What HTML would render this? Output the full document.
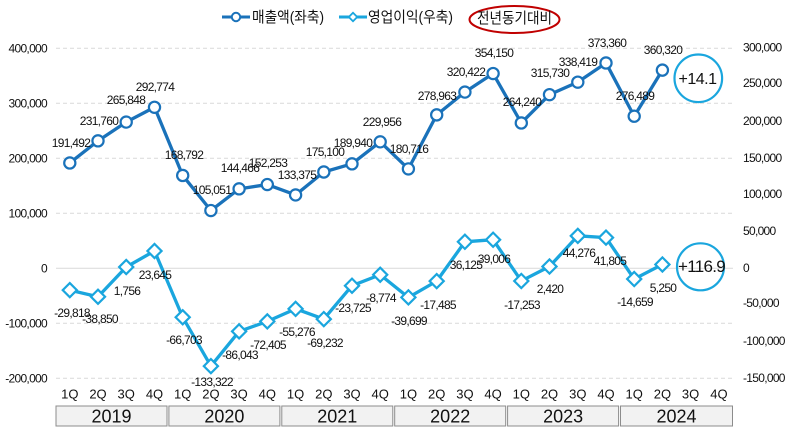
<!DOCTYPE html>
<html><head><meta charset="utf-8"><style>
html,body{margin:0;padding:0;background:#fff;}
svg{display:block;}
text{font-family:"Liberation Sans","Noto Sans CJK KR",sans-serif;fill:#111;}
.ax{font-size:12px;letter-spacing:-0.7px;}
.dl{font-size:12px;letter-spacing:-0.7px;text-anchor:middle;dominant-baseline:central;}
.q{font-size:13px;text-anchor:middle;dominant-baseline:central;}
.yr{font-size:18px;text-anchor:middle;dominant-baseline:central;}
</style></head><body>
<svg width="787" height="439" viewBox="0 0 787 439" xmlns="http://www.w3.org/2000/svg">
<rect width="787" height="439" fill="#fff"/>
<g stroke="#d9d9d9" stroke-width="1" stroke-dasharray="4,3">
<line x1="56" y1="48.3" x2="733" y2="48.3"/>
<line x1="56" y1="103.3" x2="733" y2="103.3"/>
<line x1="56" y1="158.3" x2="733" y2="158.3"/>
<line x1="56" y1="213.3" x2="733" y2="213.3"/>
<line x1="56" y1="323.3" x2="733" y2="323.3"/>
<line x1="56" y1="378.3" x2="733" y2="378.3"/>
</g>
<line x1="56" y1="268.3" x2="733" y2="268.3" stroke="#d9d9d9" stroke-width="1"/>
<g class="ax" text-anchor="end" dominant-baseline="central">
<text x="47" y="48.3">400,000</text>
<text x="47" y="103.3">300,000</text>
<text x="47" y="158.3">200,000</text>
<text x="47" y="213.3">100,000</text>
<text x="47" y="268.3">0</text>
<text x="47" y="323.3">-100,000</text>
<text x="47" y="378.3">-200,000</text>
</g>
<g class="ax" text-anchor="start" dominant-baseline="central">
<text x="743" y="47.5">300,000</text>
<text x="743" y="83">250,000</text>
<text x="743" y="121">200,000</text>
<text x="743" y="158">150,000</text>
<text x="743" y="194">100,000</text>
<text x="743" y="231">50,000</text>
<text x="743" y="268">0</text>
<text x="743" y="303">-50,000</text>
<text x="743" y="341">-100,000</text>
<text x="743" y="378">-150,000</text>
</g>
<polyline fill="none" stroke="#1a72ba" stroke-width="3.3" stroke-linejoin="round" points="69.8,162.98 98.0,140.83 126.2,122.08 154.5,107.27 182.7,175.46 210.9,210.52 239.1,188.84 267.3,184.56 295.6,194.94 323.8,171.99 352.0,163.83 380.2,141.82 408.4,168.91 436.7,114.87 464.9,92.07 493.1,73.52 521.3,122.97 549.5,94.65 577.8,82.17 606.0,62.95 634.2,116.23 662.4,70.12"/>
<g fill="#fff" stroke="#1a72ba" stroke-width="2.2">
<circle cx="69.8" cy="162.98" r="5.6"/><circle cx="98.0" cy="140.83" r="5.6"/><circle cx="126.2" cy="122.08" r="5.6"/><circle cx="154.5" cy="107.27" r="5.6"/><circle cx="182.7" cy="175.46" r="5.6"/><circle cx="210.9" cy="210.52" r="5.6"/><circle cx="239.1" cy="188.84" r="5.6"/><circle cx="267.3" cy="184.56" r="5.6"/><circle cx="295.6" cy="194.94" r="5.6"/><circle cx="323.8" cy="171.99" r="5.6"/><circle cx="352.0" cy="163.83" r="5.6"/><circle cx="380.2" cy="141.82" r="5.6"/><circle cx="408.4" cy="168.91" r="5.6"/><circle cx="436.7" cy="114.87" r="5.6"/><circle cx="464.9" cy="92.07" r="5.6"/><circle cx="493.1" cy="73.52" r="5.6"/><circle cx="521.3" cy="122.97" r="5.6"/><circle cx="549.5" cy="94.65" r="5.6"/><circle cx="577.8" cy="82.17" r="5.6"/><circle cx="606.0" cy="62.95" r="5.6"/><circle cx="634.2" cy="116.23" r="5.6"/><circle cx="662.4" cy="70.12" r="5.6"/>
</g>
<polyline fill="none" stroke="#1aa6de" stroke-width="3.3" stroke-linejoin="round" points="69.8,290.17 98.0,296.79 126.2,267.01 154.5,250.96 182.7,317.21 210.9,366.07 239.1,331.40 267.3,321.40 295.6,308.83 323.8,319.07 352.0,285.70 380.2,274.73 408.4,297.41 436.7,281.12 464.9,241.81 493.1,239.70 521.3,280.95 549.5,266.53 577.8,235.83 606.0,237.64 634.2,279.05 662.4,264.45"/>
<g fill="#fff" stroke="#1aa6de" stroke-width="2.2">
<rect x="-5" y="-5" width="10" height="10" transform="translate(69.8,290.17) rotate(45)"/>
<rect x="-5" y="-5" width="10" height="10" transform="translate(98.0,296.79) rotate(45)"/>
<rect x="-5" y="-5" width="10" height="10" transform="translate(126.2,267.01) rotate(45)"/>
<rect x="-5" y="-5" width="10" height="10" transform="translate(154.5,250.96) rotate(45)"/>
<rect x="-5" y="-5" width="10" height="10" transform="translate(182.7,317.21) rotate(45)"/>
<rect x="-5" y="-5" width="10" height="10" transform="translate(210.9,366.07) rotate(45)"/>
<rect x="-5" y="-5" width="10" height="10" transform="translate(239.1,331.40) rotate(45)"/>
<rect x="-5" y="-5" width="10" height="10" transform="translate(267.3,321.40) rotate(45)"/>
<rect x="-5" y="-5" width="10" height="10" transform="translate(295.6,308.83) rotate(45)"/>
<rect x="-5" y="-5" width="10" height="10" transform="translate(323.8,319.07) rotate(45)"/>
<rect x="-5" y="-5" width="10" height="10" transform="translate(352.0,285.70) rotate(45)"/>
<rect x="-5" y="-5" width="10" height="10" transform="translate(380.2,274.73) rotate(45)"/>
<rect x="-5" y="-5" width="10" height="10" transform="translate(408.4,297.41) rotate(45)"/>
<rect x="-5" y="-5" width="10" height="10" transform="translate(436.7,281.12) rotate(45)"/>
<rect x="-5" y="-5" width="10" height="10" transform="translate(464.9,241.81) rotate(45)"/>
<rect x="-5" y="-5" width="10" height="10" transform="translate(493.1,239.70) rotate(45)"/>
<rect x="-5" y="-5" width="10" height="10" transform="translate(521.3,280.95) rotate(45)"/>
<rect x="-5" y="-5" width="10" height="10" transform="translate(549.5,266.53) rotate(45)"/>
<rect x="-5" y="-5" width="10" height="10" transform="translate(577.8,235.83) rotate(45)"/>
<rect x="-5" y="-5" width="10" height="10" transform="translate(606.0,237.64) rotate(45)"/>
<rect x="-5" y="-5" width="10" height="10" transform="translate(634.2,279.05) rotate(45)"/>
<rect x="-5" y="-5" width="10" height="10" transform="translate(662.4,264.45) rotate(45)"/>
</g>
<g class="dl">
<text x="71" y="143">191,492</text><text x="99" y="121">231,760</text><text x="126" y="100">265,848</text><text x="155" y="87">292,774</text><text x="184" y="155">168,792</text><text x="212" y="190">105,051</text><text x="240" y="168">144,466</text><text x="268" y="163">152,253</text><text x="297" y="175">133,375</text><text x="325" y="152">175,100</text><text x="353" y="143">189,940</text><text x="382" y="122">229,956</text><text x="409" y="149">180,716</text><text x="437" y="96">278,963</text><text x="466" y="72">320,422</text><text x="494" y="53">354,150</text><text x="522" y="102">264,240</text><text x="550" y="73">315,730</text><text x="578" y="62">338,419</text><text x="607" y="43">373,360</text><text x="635" y="96">276,489</text><text x="663" y="50">360,320</text>
</g>
<g class="dl">
<text x="72" y="313">-29,818</text><text x="100" y="319">-38,850</text><text x="127" y="291">1,756</text><text x="155" y="275">23,645</text><text x="184" y="340">-66,703</text><text x="212" y="382">-133,322</text><text x="240" y="355">-86,043</text><text x="268" y="345">-72,405</text><text x="297" y="332">-55,276</text><text x="325" y="343">-69,232</text><text x="353" y="308">-23,725</text><text x="381" y="298">-8,774</text><text x="409" y="321">-39,699</text><text x="438" y="305">-17,485</text><text x="466" y="265">36,125</text><text x="494" y="259">39,006</text><text x="522" y="305">-17,253</text><text x="550" y="289">2,420</text><text x="579" y="253">44,276</text><text x="610" y="261">41,805</text><text x="635" y="302">-14,659</text><text x="663" y="288">5,250</text>
</g>
<circle cx="698.3" cy="78.3" r="23.8" fill="#fff" stroke="#1aa6de" stroke-width="2.2"/>
<text x="697.5" y="79.3" font-size="16" letter-spacing="-0.5" text-anchor="middle" dominant-baseline="central">+14.1</text>
<circle cx="700.5" cy="266.8" r="23.5" fill="none" stroke="#1aa6de" stroke-width="2.2"/>
<text x="701.5" y="266.5" font-size="17" letter-spacing="-0.7" text-anchor="middle" dominant-baseline="central">+116.9</text>
<g class="q">
<text x="69.8" y="394">1Q</text><text x="98.0" y="394">2Q</text><text x="126.2" y="394">3Q</text><text x="154.5" y="394">4Q</text>
<text x="182.7" y="394">1Q</text><text x="210.9" y="394">2Q</text><text x="239.1" y="394">3Q</text><text x="267.3" y="394">4Q</text>
<text x="295.6" y="394">1Q</text><text x="323.8" y="394">2Q</text><text x="352.0" y="394">3Q</text><text x="380.2" y="394">4Q</text>
<text x="408.4" y="394">1Q</text><text x="436.7" y="394">2Q</text><text x="464.9" y="394">3Q</text><text x="493.1" y="394">4Q</text>
<text x="521.3" y="394">1Q</text><text x="549.5" y="394">2Q</text><text x="577.8" y="394">3Q</text><text x="606.0" y="394">4Q</text>
<text x="634.2" y="394">1Q</text><text x="662.4" y="394">2Q</text><text x="690.6" y="394">3Q</text><text x="718.9" y="394">4Q</text>
</g>
<g fill="#f2f2f2" stroke="#8c8c8c" stroke-width="1">
<rect x="56" y="406" width="111" height="20"/>
<rect x="168.9" y="406" width="111" height="20"/>
<rect x="281.8" y="406" width="111" height="20"/>
<rect x="394.7" y="406" width="111" height="20"/>
<rect x="507.6" y="406" width="111" height="20"/>
<rect x="620.5" y="406" width="112" height="20"/>
</g>
<g class="yr">
<text x="111.5" y="416.5">2019</text>
<text x="224.4" y="416.5">2020</text>
<text x="337.3" y="416.5">2021</text>
<text x="450.2" y="416.5">2022</text>
<text x="563.1" y="416.5">2023</text>
<text x="676.5" y="416.5">2024</text>
</g>
<line x1="222" y1="17" x2="250" y2="17" stroke="#1a72ba" stroke-width="3"/>
<circle cx="236" cy="17" r="4.2" fill="#fff" stroke="#1a72ba" stroke-width="2"/>
<text x="252" y="17.5" font-size="15" dominant-baseline="central" textLength="72" lengthAdjust="spacingAndGlyphs">매출액(좌축)</text>
<line x1="339" y1="17" x2="367" y2="17" stroke="#1aa6de" stroke-width="3"/>
<rect x="-3" y="-3" width="6" height="6" fill="#fff" stroke="#1aa6de" stroke-width="1.8" transform="translate(353,17) rotate(45)"/>
<text x="368" y="17.5" font-size="15" dominant-baseline="central" textLength="85" lengthAdjust="spacingAndGlyphs">영업이익(우축)</text>
<ellipse cx="514.5" cy="19.5" rx="45" ry="13.5" fill="none" stroke="#c00000" stroke-width="2"/>
<text x="477" y="18.5" font-size="15" dominant-baseline="central" textLength="75" lengthAdjust="spacingAndGlyphs">전년동기대비</text>
</svg>
</body></html>
